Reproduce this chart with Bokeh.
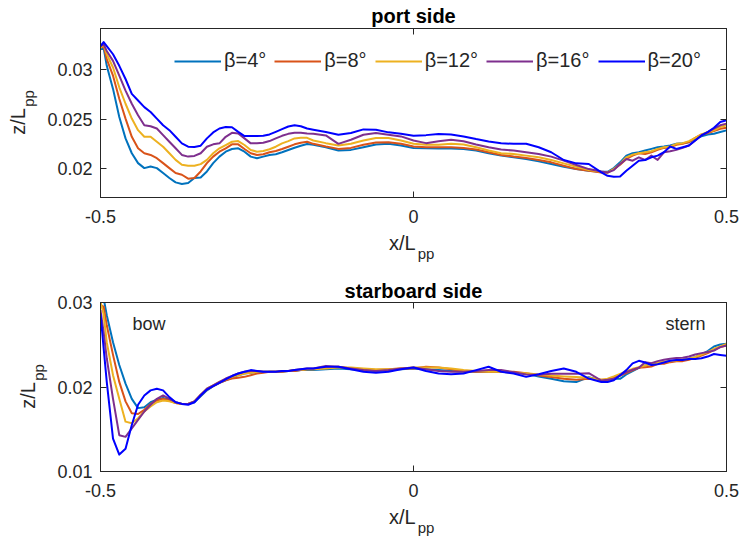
import math
from bokeh.plotting import figure
from bokeh.layouts import column
from bokeh.models import Range1d, LinearAxis, FixedTicker, Label
from bokeh.embed import file_html
from bokeh.resources import INLINE

# ---------------- data ----------------
x_pos = [-0.5, -0.495, -0.49, -0.48, -0.47, -0.46, -0.45, -0.44, -0.43, -0.42, -0.41, -0.40,
         -0.39, -0.38, -0.37, -0.36, -0.35, -0.34, -0.33, -0.32, -0.31, -0.30, -0.29, -0.28,
         -0.27, -0.26, -0.25, -0.24, -0.23, -0.22, -0.21, -0.20, -0.19, -0.18, -0.17,
         -0.16, -0.14, -0.12, -0.10, -0.08, -0.06, -0.04, -0.02, 0.0, 0.02, 0.04, 0.06, 0.08,
         0.10, 0.12, 0.14,
         0.16, 0.18, 0.20, 0.22, 0.24, 0.26, 0.28, 0.30,
         0.31, 0.32, 0.33, 0.34, 0.35, 0.36, 0.37, 0.38, 0.39, 0.40, 0.41, 0.42, 0.43, 0.44,
         0.45, 0.46, 0.47, 0.48, 0.49, 0.50]

series_labels = ["β=4°", "β=8°", "β=12°", "β=16°", "β=20°"]

# port side  z/Lpp
port_b4 = [0.03207, 0.03223, 0.0304, 0.02807, 0.02523, 0.02307, 0.02157, 0.02057, 0.02007, 0.02023, 0.02007, 0.01957,
           0.01907, 0.01863, 0.01847, 0.01857, 0.01907, 0.01913, 0.01973, 0.02057, 0.02123, 0.02173, 0.022, 0.02207,
           0.02173, 0.02123, 0.02107, 0.02123, 0.0214, 0.02147, 0.02167, 0.0219, 0.02213, 0.02233, 0.0225,
           0.02242, 0.02218, 0.02184, 0.02191, 0.02218, 0.02245, 0.02252, 0.02235, 0.02211, 0.02208, 0.02204, 0.02204, 0.02201,
           0.02184, 0.02157, 0.02133,
           0.02116, 0.02099, 0.02075, 0.02048, 0.02021, 0.01997, 0.0198, 0.0197,
           0.0197, 0.02007, 0.02065, 0.02133, 0.02157, 0.02167, 0.02184, 0.02201, 0.02218, 0.02225, 0.02235, 0.02252, 0.02259, 0.02269,
           0.02303, 0.02327, 0.02347, 0.02354, 0.02371, 0.02388]
port_b8 = [0.03223, 0.0324, 0.03107, 0.0294, 0.02707, 0.02507, 0.02323, 0.02207, 0.02157, 0.0214, 0.02107, 0.02057,
           0.02007, 0.01957, 0.0194, 0.019, 0.01907, 0.01973, 0.02057, 0.02123, 0.02173, 0.02207, 0.02247, 0.02247,
           0.022, 0.02157, 0.0214, 0.02147, 0.02167, 0.0218, 0.022, 0.02223, 0.02247, 0.02263, 0.02273,
           0.02252, 0.02225, 0.02201, 0.02211, 0.02242, 0.02266, 0.02269, 0.02252, 0.02225, 0.02218, 0.02218, 0.02218, 0.02211,
           0.02194, 0.02167, 0.0214,
           0.02123, 0.02109, 0.02089, 0.02065, 0.02031, 0.01997, 0.0198, 0.01963,
           0.0196, 0.01997, 0.02041, 0.02099, 0.02133, 0.02157, 0.0215, 0.02167, 0.02191, 0.02211, 0.02218, 0.02242, 0.02252, 0.02269,
           0.02313, 0.02347, 0.0236, 0.02381, 0.02405, 0.02415]
port_b12 = [0.03223, 0.03257, 0.03157, 0.03023, 0.02823, 0.02657, 0.02507, 0.0239, 0.02323, 0.02323, 0.02273, 0.02223,
            0.02157, 0.0209, 0.0204, 0.0203, 0.0203, 0.02047, 0.0209, 0.02157, 0.02207, 0.0224, 0.02273, 0.0228,
            0.0224, 0.0219, 0.02173, 0.0218, 0.02197, 0.02223, 0.02257, 0.0228, 0.02307, 0.02313, 0.02313,
            0.02286, 0.02259, 0.02235, 0.02252, 0.02286, 0.0231, 0.0231, 0.02286, 0.02252, 0.02242, 0.02242, 0.02252, 0.02245,
            0.02218, 0.02184, 0.02157,
            0.0215, 0.02133, 0.02116, 0.02089, 0.02055, 0.02021, 0.01987, 0.0197,
            0.01963, 0.01997, 0.02048, 0.02116, 0.02143, 0.02157, 0.02167, 0.02177, 0.02201, 0.02218, 0.02225, 0.02252, 0.02259, 0.02279,
            0.02313, 0.02347, 0.02371, 0.02388, 0.02422, 0.02439]
port_b16 = [0.0324, 0.03257, 0.0319, 0.0309, 0.0294, 0.0279, 0.02657, 0.0254, 0.0244, 0.0243, 0.02407, 0.0234,
            0.02273, 0.02207, 0.0214, 0.02123, 0.0213, 0.02157, 0.02223, 0.02247, 0.02257, 0.02323, 0.02363, 0.02357,
            0.02307, 0.02257, 0.02257, 0.02263, 0.0228, 0.02307, 0.02333, 0.02353, 0.02363, 0.02363, 0.02357,
            0.02354, 0.02337, 0.02252, 0.02293, 0.02344, 0.02361, 0.02344, 0.02327, 0.02286, 0.02259, 0.02279, 0.02293, 0.02279,
            0.02245, 0.02218, 0.02194,
            0.02184, 0.02167, 0.0215, 0.02123, 0.02082, 0.02038, 0.01997, 0.01973,
            0.01963, 0.01987, 0.02048, 0.02099, 0.02082, 0.02116, 0.02089, 0.02133, 0.02089, 0.02167, 0.02177, 0.02191, 0.02211, 0.02235,
            0.02286, 0.02337, 0.02371, 0.02405, 0.02439, 0.02456]
port_b20 = [0.0324, 0.0328, 0.0324, 0.03157, 0.0304, 0.02907, 0.02757, 0.0269, 0.02623, 0.02573, 0.02507, 0.0244,
            0.0239, 0.02323, 0.02257, 0.02223, 0.0222, 0.02233, 0.02307, 0.02367, 0.02407, 0.02423, 0.0242, 0.02373,
            0.0233, 0.0233, 0.0233, 0.02333, 0.02347, 0.02373, 0.024, 0.02427, 0.0244, 0.0243, 0.02407,
            0.02395, 0.02371, 0.02344, 0.02361, 0.02398, 0.02395, 0.02368, 0.02354, 0.02334, 0.0234, 0.02351, 0.02347, 0.02327,
            0.023, 0.02276, 0.02259,
            0.02252, 0.02252, 0.02218, 0.02167, 0.02089, 0.02055, 0.02048, 0.01963,
            0.01929, 0.0192, 0.01922, 0.0198, 0.02031, 0.02082, 0.02089, 0.02116, 0.02133, 0.02167, 0.02225, 0.02201, 0.02218, 0.02235,
            0.02286, 0.02337, 0.02371, 0.02415, 0.02473, 0.0249]

# starboard side  z/Lpp
stbd_b4 = [0.0315, 0.0305, 0.0285, 0.0253, 0.0226, 0.0204, 0.0186, 0.0175, 0.0176, 0.0182, 0.0185, 0.0187,
           0.0185, 0.0182, 0.0180, 0.0180, 0.0182, 0.0189, 0.0196, 0.0201, 0.0205, 0.0208, 0.0211, 0.0214,
           0.0216, 0.0217, 0.0218, 0.0218, 0.0218, 0.0218, 0.0218, 0.0219, 0.0219, 0.0220, 0.0220,
           0.0220, 0.0221, 0.0222, 0.0221, 0.0220, 0.0219, 0.0220, 0.0221, 0.0222, 0.0221, 0.0220, 0.0219, 0.0218,
           0.0218, 0.0218, 0.0218,
           0.0217, 0.02156, 0.02125, 0.02097, 0.02069, 0.02058, 0.02117, 0.02077,
           0.02085, 0.02097, 0.02097, 0.02148, 0.02188, 0.02227, 0.02255, 0.02274, 0.02282, 0.02294, 0.02306, 0.02314, 0.02322, 0.02334,
           0.02353, 0.02385, 0.02424, 0.0248, 0.02503, 0.02511]
stbd_b8 = [0.0297, 0.0295, 0.0273, 0.0238, 0.0206, 0.0183, 0.0169, 0.0168, 0.0173, 0.0180, 0.0184, 0.0186,
           0.0184, 0.0181, 0.0180, 0.0180, 0.0183, 0.0190, 0.0197, 0.0201, 0.0205, 0.0208, 0.0210, 0.0211,
           0.0212, 0.0214, 0.0216, 0.0217, 0.0218, 0.0218, 0.0218, 0.0219, 0.0219, 0.0220, 0.0221,
           0.0221, 0.0223, 0.0224, 0.0222, 0.0221, 0.0220, 0.0221, 0.0222, 0.0222, 0.0224, 0.0223, 0.0221, 0.0219,
           0.0218, 0.0218, 0.0218,
           0.0218, 0.02164, 0.02136, 0.02117, 0.02097, 0.02085, 0.02097, 0.02085,
           0.02085, 0.02109, 0.02136, 0.02164, 0.02196, 0.02227, 0.02235, 0.02243, 0.02274, 0.02274, 0.02294, 0.02306, 0.02306, 0.02322,
           0.02345, 0.02373, 0.02401, 0.0244, 0.02472, 0.02491]
stbd_b12 = [0.0301, 0.0286, 0.0253, 0.0214, 0.0186, 0.0159, 0.0157, 0.0163, 0.0171, 0.0177, 0.0182, 0.0184,
            0.0183, 0.0181, 0.0180, 0.0180, 0.0183, 0.0191, 0.0198, 0.0202, 0.0206, 0.0209, 0.0212, 0.0214,
            0.0216, 0.0217, 0.0218, 0.0218, 0.0218, 0.0218, 0.0219, 0.0219, 0.0220, 0.0220, 0.0221,
            0.0221, 0.0222, 0.0223, 0.0223, 0.0222, 0.0221, 0.0221, 0.0222, 0.0223, 0.0223, 0.0223, 0.0222, 0.0220,
            0.0219, 0.0218, 0.0218,
            0.0217, 0.02164, 0.02148, 0.02136, 0.02125, 0.02117, 0.02109, 0.02085,
            0.02097, 0.02125, 0.02156, 0.02188, 0.02215, 0.02235, 0.02255, 0.02274, 0.02286, 0.02298, 0.02306, 0.02314, 0.02322, 0.02334,
            0.02353, 0.02385, 0.02413, 0.02452, 0.0248, 0.02511]
stbd_b16 = [0.0291, 0.0265, 0.0234, 0.0186, 0.0143, 0.0141, 0.0151, 0.0161, 0.0171, 0.0179, 0.0186, 0.0190,
            0.0186, 0.0182, 0.0180, 0.0180, 0.0183, 0.0191, 0.0198, 0.0202, 0.0206, 0.0210, 0.0213, 0.0216,
            0.0218, 0.0219, 0.0219, 0.0218, 0.0218, 0.0218, 0.0219, 0.0219, 0.0220, 0.0221, 0.0222,
            0.0222, 0.0225, 0.0224, 0.0222, 0.0220, 0.0219, 0.0220, 0.0222, 0.0223, 0.0221, 0.0219, 0.0218, 0.0218,
            0.0219, 0.0220, 0.0220,
            0.02176, 0.02148, 0.02144, 0.02156, 0.02156, 0.02156, 0.02164, 0.02077,
            0.02085, 0.02097, 0.02136, 0.02176, 0.02204, 0.02227, 0.02294, 0.02282, 0.02306, 0.02322, 0.02334, 0.02342, 0.02345, 0.02361,
            0.02385, 0.02401, 0.02413, 0.02432, 0.02472, 0.02491]
stbd_b20 = [0.0287, 0.0246, 0.0206, 0.0139, 0.0120, 0.0127, 0.0155, 0.0179, 0.0190, 0.0196, 0.0198, 0.0196,
            0.0188, 0.0182, 0.0180, 0.0179, 0.0182, 0.0190, 0.0197, 0.0201, 0.0205, 0.0209, 0.0213, 0.0216,
            0.0218, 0.0220, 0.0219, 0.0218, 0.0218, 0.0218, 0.0219, 0.0219, 0.0220, 0.0221, 0.0222,
            0.0222, 0.0224, 0.0224, 0.0221, 0.0218, 0.0217, 0.0218, 0.0221, 0.0223, 0.0219, 0.0216, 0.0215, 0.0216,
            0.0220, 0.0224, 0.0218,
            0.0216, 0.0212, 0.0215, 0.0219, 0.0222, 0.0218, 0.0210, 0.0206,
            0.0206, 0.0208, 0.0214, 0.0220, 0.0228, 0.0231, 0.0229, 0.0226, 0.0227, 0.0229, 0.0231, 0.0232, 0.0232, 0.0233,
            0.0233, 0.0234, 0.0236, 0.0239, 0.0238, 0.0237]

x_ticks = [-0.5, 0.0, 0.5]
x_tick_labels = ["-0.5", "0", "0.5"]
port_y_ticks = [0.02, 0.025, 0.03]
port_y_tick_labels = ["0.02", "0.025", "0.03"]
stbd_y_ticks = [0.01, 0.02, 0.03]
stbd_y_tick_labels = ["0.01", "0.02", "0.03"]

colors = ["#0072BD", "#D95319", "#EDB120", "#7E2F8E", "#0000FF"]

FONT = "Liberation Sans"
AX = "#262626"
NB = "\u00a0"


def style_axis(ax, ticks, labels, show, standoff):
    ax.ticker = FixedTicker(ticks=ticks)
    ax.major_label_overrides = {t: l for t, l in zip(ticks, labels)}
    ax.minor_tick_line_color = None
    ax.major_tick_in = 6
    ax.major_tick_out = 0
    ax.major_tick_line_color = AX
    ax.major_tick_line_width = 1
    ax.axis_line_color = AX
    ax.axis_line_width = 1
    ax.major_label_text_font = FONT
    if show:
        ax.major_label_text_color = AX
        ax.major_label_text_font_size = "18px"
    else:
        ax.major_label_text_color = None
        ax.major_label_text_font_size = "1px"
    ax.major_label_standoff = standoff


def label_axis(ax, text, size, standoff):
    ax.axis_label = text
    ax.axis_label_text_font = FONT
    ax.axis_label_text_font_size = size
    ax.axis_label_text_font_style = "normal"
    ax.axis_label_text_color = AX
    ax.axis_label_standoff = standoff


def text_only_axis(text, size, standoff):
    ax = LinearAxis(ticker=FixedTicker(ticks=[]))
    ax.axis_line_color = None
    ax.major_tick_line_color = None
    ax.minor_tick_line_color = None
    ax.major_label_text_color = None
    ax.major_label_text_font_size = "1px"
    ax.major_label_standoff = 0
    ax.major_tick_in = 0
    ax.major_tick_out = 0
    label_axis(ax, text, size, standoff)
    return ax


def make_fig(yr, yticks, ylabels, title, top_border, bottom_border, title_standoff):
    p = figure(frame_width=626, frame_height=169,
               x_range=Range1d(-0.5, 0.5), y_range=Range1d(*yr),
               output_backend="svg", toolbar_location=None,
               min_border_left=100, min_border_right=15,
               min_border_top=top_border, min_border_bottom=bottom_border)
    p.xgrid.visible = False
    p.ygrid.visible = False
    p.outline_line_color = AX
    p.outline_line_width = 1
    p.background_fill_color = "white"
    p.border_fill_color = "white"
    p.title.text = title
    p.title.align = "center"
    p.title.text_font = FONT
    p.title.text_font_size = "20px"
    p.title.text_font_style = "bold"
    p.title.text_color = "#000000"
    p.title.standoff = title_standoff
    # main axes with tick labels
    style_axis(p.xaxis[0], x_ticks, x_tick_labels, True, 12)
    style_axis(p.yaxis[0], yticks, ylabels, True, 8)
    # x label:  x/L  with subscript pp
    label_axis(p.xaxis[0], "x/L" + NB * 4, "20px", 6)
    p.add_layout(text_only_axis(NB * 6 + "pp", "15px", -12), "below")
    # y label:  z/L  with subscript pp (subscript is the inner one)
    label_axis(p.yaxis[0], NB * 7 + "pp", "15px", 7)
    p.add_layout(text_only_axis("z/L" + NB * 3, "20px", -11), "left")
    # mirrored box ticks
    ra = LinearAxis()
    style_axis(ra, yticks, ylabels, False, 0)
    p.add_layout(ra, "right")
    ta = LinearAxis()
    style_axis(ta, x_ticks, x_tick_labels, False, 0)
    p.add_layout(ta, "above")
    return p


def add_text(p, txt, x, y, size, align="left"):
    p.add_layout(Label(x=x, y=y, x_units="screen", y_units="screen", text=txt,
                       text_font=FONT, text_font_size=size, text_align=align,
                       text_baseline="alphabetic", text_color=AX))


# ---------------- port side ----------------
p1 = make_fig((0.0171, 0.03417), port_y_ticks, port_y_tick_labels, "port side", 28, 73, 4)
for ys, c, lab in zip([port_b4, port_b8, port_b12, port_b16, port_b20], colors, series_labels):
    p1.line(x_pos, ys, line_color=c, line_width=2, line_join="round", legend_label=lab)
lg = p1.legend[0]
lg.orientation = "horizontal"
lg.location = (74, 125)
lg.glyph_width = 47
lg.glyph_height = 20
lg.label_standoff = 3
lg.spacing = 8
lg.padding = 0
lg.margin = 0
lg.border_line_color = None
lg.background_fill_alpha = 0
lg.label_text_font = FONT
lg.label_text_font_size = "20px"
lg.label_text_color = AX

# ---------------- starboard side ----------------
p2 = make_fig((0.01, 0.03), stbd_y_ticks, stbd_y_tick_labels, "starboard side", 32, 72, 1)
for ys, c in zip([stbd_b4, stbd_b8, stbd_b12, stbd_b16, stbd_b20], colors):
    p2.line(x_pos, ys, line_color=c, line_width=2, line_join="round")
add_text(p2, "bow", 32, 148, "18px", align="left")
add_text(p2, "stern", 605, 148, "18px", align="right")

layout = column(p1, p2, spacing=0)
open("out.html", "w").write(file_html(layout, INLINE))
